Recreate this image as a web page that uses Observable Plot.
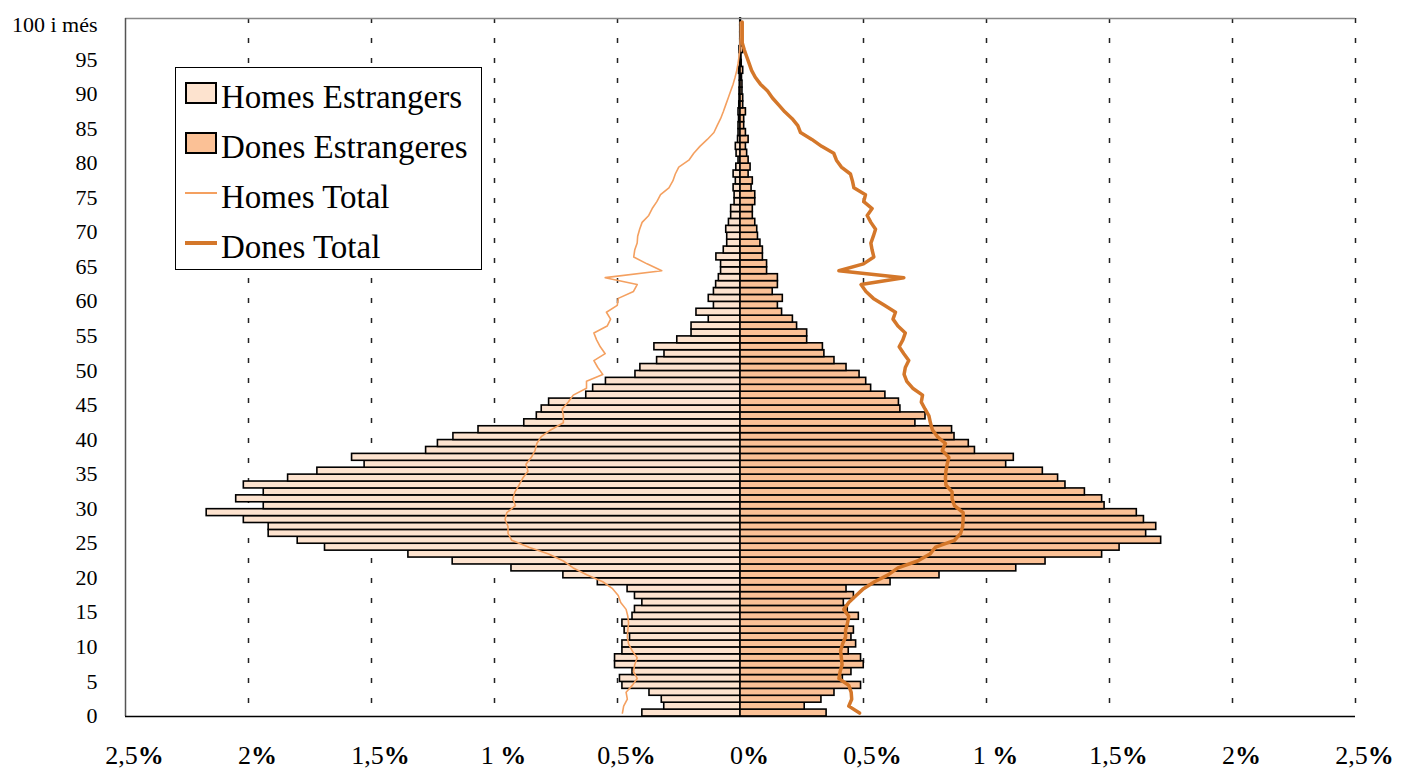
<!DOCTYPE html>
<html><head><meta charset="utf-8">
<script src="https://cdn.jsdelivr.net/npm/d3@7"></script>
<script src="https://cdn.jsdelivr.net/npm/@observablehq/plot@0.6"></script>
<style>
body{margin:0;background:#fff;}
#wrap{position:relative;width:1401px;height:769px;}
#legend{position:absolute;left:175px;top:67px;}
</style></head>
<body><div id="wrap"></div>
<script>
// ages 0..100 ("100 i més")
const ages = Array.from({length: 101}, (_, i) => i);
// % of total population, foreign men (left) per age 0..100
const homesEstrangers = [
0.399,0.310,0.320,0.370,0.480,0.490,0.439,0.510,0.510,0.480,
0.480,0.449,0.471,0.480,0.439,0.429,0.399,0.429,0.459,0.580,
0.720,0.931,1.170,1.350,1.689,1.800,1.918,1.918,2.019,2.170,
1.938,2.050,1.938,2.019,1.839,1.720,1.528,1.579,1.278,1.230,
1.167,1.065,0.879,0.828,0.808,0.778,0.627,0.599,0.547,0.427,
0.407,0.339,0.309,0.350,0.257,0.199,0.199,0.129,0.179,0.108,
0.129,0.108,0.099,0.088,0.079,0.079,0.098,0.068,0.054,0.054,
0.058,0.047,0.038,0.038,0.024,0.024,0.028,0.019,0.028,0.017,
0.008,0.016,0.019,0.010,0.008,0.008,0.006,0.008,0.005,0.004,
0.004,0.003,0.003,0.006,0.002,0.002,0.004,0.001,0.001,0.001,0.001];
// foreign women (right)
const donesEstrangeres = [
0.350,0.261,0.329,0.382,0.490,0.416,0.451,0.501,0.490,0.440,
0.470,0.451,0.461,0.440,0.481,0.436,0.420,0.461,0.431,0.610,
0.809,1.121,1.240,1.470,1.541,1.710,1.649,1.690,1.640,1.611,
1.480,1.470,1.400,1.321,1.291,1.229,1.080,1.111,0.953,0.928,
0.870,0.860,0.711,0.752,0.650,0.644,0.589,0.531,0.511,0.484,
0.431,0.382,0.341,0.335,0.271,0.271,0.230,0.213,0.169,0.152,
0.172,0.131,0.152,0.152,0.108,0.108,0.091,0.091,0.081,0.071,
0.068,0.060,0.050,0.050,0.060,0.060,0.045,0.050,0.033,0.041,
0.033,0.027,0.022,0.033,0.022,0.015,0.015,0.022,0.011,0.011,
0.008,0.008,0.006,0.011,0.005,0.004,0.011,0.003,0.002,0.002,0.002];
// total men (line, left)
const homesTotal = [
0.480,0.475,0.460,0.465,0.440,0.420,0.435,0.430,0.420,0.440,
0.455,0.460,0.458,0.455,0.458,0.465,0.487,0.497,0.520,0.560,
0.625,0.680,0.720,0.780,0.860,0.930,0.945,0.945,0.957,0.950,
0.915,0.925,0.917,0.900,0.885,0.864,0.872,0.850,0.835,0.828,
0.810,0.770,0.720,0.720,0.725,0.700,0.680,0.626,0.626,0.560,
0.580,0.596,0.550,0.570,0.585,0.596,0.542,0.528,0.545,0.501,
0.497,0.435,0.420,0.550,0.320,0.380,0.434,0.430,0.420,0.418,
0.410,0.400,0.373,0.359,0.340,0.325,0.291,0.275,0.265,0.251,
0.210,0.190,0.165,0.135,0.108,0.095,0.081,0.070,0.060,0.050,
0.040,0.030,0.022,0.015,0.010,0.006,0.003,0.002,0.001,0.001,0.001];
// total women (line, right)
const donesTotal = [
0.484,0.440,0.452,0.450,0.440,0.400,0.405,0.413,0.410,0.407,
0.415,0.427,0.427,0.435,0.440,0.420,0.440,0.470,0.500,0.545,
0.600,0.640,0.720,0.770,0.793,0.870,0.895,0.903,0.905,0.905,
0.870,0.860,0.860,0.835,0.833,0.835,0.840,0.847,0.820,0.833,
0.800,0.780,0.772,0.766,0.750,0.735,0.740,0.700,0.676,0.665,
0.670,0.684,0.664,0.645,0.660,0.670,0.640,0.620,0.630,0.585,
0.540,0.510,0.490,0.664,0.400,0.500,0.542,0.535,0.530,0.540,
0.549,0.530,0.515,0.535,0.501,0.508,0.461,0.455,0.447,0.410,
0.390,0.379,0.330,0.290,0.244,0.233,0.210,0.180,0.155,0.130,
0.110,0.081,0.060,0.045,0.035,0.025,0.015,0.007,0.007,0.007,0.007];

const yTicks = [0,5,10,15,20,25,30,35,40,45,50,55,60,65,70,75,80,85,90,95,100];
const yLabels = ["0","5","10","15","20","25","30","35","40","45","50","55","60","65","70","75","80","85","90","95","100 i més"];
const xTicks = [-2.5,-2,-1.5,-1,-0.5,0,0.5,1,1.5,2,2.5];
const xLabels = ["2,5%","2%","1,5%","1 %","0,5%","0%","0,5%","1 %","1,5%","2%","2,5%"];
const gridTicks = [-2,-1.5,-1,-0.5,0.5,1,1.5,2,2.5];

const seriesNames = ["Homes Estrangers","Dones Estrangeres","Homes Total","Dones Total"];
const colors = {he:"#fde3cf", de:"#fbc196", ht:"#f4a060", dt:"#d4772a"};

const rows = ages.map((a, i) => ({age: a, he: homesEstrangers[i], de: donesEstrangeres[i], ht: homesTotal[i], dt: donesTotal[i]}));

const serif = "Liberation Serif, Times New Roman, DejaVu Serif, serif";
const chart = Plot.plot({
  width: 1401, height: 769,
  marginLeft: 125, marginRight: 46, marginTop: 18, marginBottom: 53,
  x: {domain: [-2.5, 2.5], axis: null},
  y: {domain: [-0.5, 100.5], axis: null},
  style: {background: "#fff", fontFamily: serif, overflow: "visible", color: "#000"},
  marks: [
    Plot.ruleX(gridTicks, {stroke: "#222", strokeWidth: 1.5, strokeDasharray: "5,15"}),
    Plot.rect(rows, {x1: 0, x2: d => -d.he, y1: d => d.age - 0.5, y2: d => d.age + 0.5, fill: colors.he, stroke: "#000", strokeWidth: 1.6}),
    Plot.rect(rows, {x1: 0, x2: d => d.de, y1: d => d.age - 0.5, y2: d => d.age + 0.5, fill: colors.de, stroke: "#000", strokeWidth: 1.6}),
    Plot.line(rows, {x: d => -d.ht, y: "age", stroke: colors.ht, strokeWidth: 1.6}),
    Plot.line(rows, {x: "dt", y: "age", stroke: colors.dt, strokeWidth: 3.5}),
    Plot.ruleY([100.5], {stroke: "#888", strokeWidth: 1.5}),
    Plot.ruleX([-2.5], {stroke: "#555", strokeWidth: 1.5}),
    Plot.ruleY([-0.5], {stroke: "#000", strokeWidth: 1.5}),
    Plot.text(yTicks, {x: -2.5, y: d => d, text: (d, i) => yLabels[i], textAnchor: "end", dx: -28, dy: 3, fontSize: 22, fontFamily: serif, fill: "#000"}),
    Plot.text(xTicks, {x: d => d, y: -0.5, text: (d, i) => xLabels[i], dy: 39, dx: 9, fontSize: 26, fontFamily: serif, fill: "#000"})
  ]
});

// make the % sign bold as in the original
chart.querySelectorAll("text").forEach(t => {
  const s = t.textContent;
  if (s.endsWith("%")) {
    t.textContent = s.slice(0, -1);
    const ts = document.createElementNS("http://www.w3.org/2000/svg", "tspan");
    ts.setAttribute("font-weight", "bold");
    ts.textContent = "%";
    t.appendChild(ts);
  }
});

const wrap = document.getElementById("wrap");
wrap.appendChild(chart);

// legend overlay
const ns = "http://www.w3.org/2000/svg";
const lg = document.createElementNS(ns, "svg");
lg.setAttribute("id", "legend");
lg.setAttribute("width", 307);
lg.setAttribute("height", 203);
const bg = document.createElementNS(ns, "rect");
Object.entries({x: 0.5, y: 0.5, width: 306, height: 202, fill: "#fff", stroke: "#000", "stroke-width": 1}).forEach(([k, v]) => bg.setAttribute(k, v));
lg.appendChild(bg);
const legendKeys = ["he", "de", "ht", "dt"];
legendKeys.forEach((k, i) => {
  const cy = 26 + i * 50;
  if (k === "he" || k === "de") {
    const r = document.createElementNS(ns, "rect");
    Object.entries({x: 11, y: cy - 10, width: 30, height: 20, fill: colors[k], stroke: "#000", "stroke-width": 2}).forEach(([a, v]) => r.setAttribute(a, v));
    lg.appendChild(r);
  } else {
    const l = document.createElementNS(ns, "line");
    Object.entries({x1: 10, x2: 42, y1: cy, y2: cy, stroke: colors[k], "stroke-width": k === "ht" ? 2 : 4}).forEach(([a, v]) => l.setAttribute(a, v));
    lg.appendChild(l);
  }
  const t = document.createElementNS(ns, "text");
  t.setAttribute("x", 46);
  t.setAttribute("y", cy + 15);
  t.setAttribute("font-family", serif);
  t.setAttribute("font-size", 33);
  t.setAttribute("fill", "#000");
  t.textContent = seriesNames[i];
  lg.appendChild(t);
});
wrap.appendChild(lg);
</script>
</body></html>
